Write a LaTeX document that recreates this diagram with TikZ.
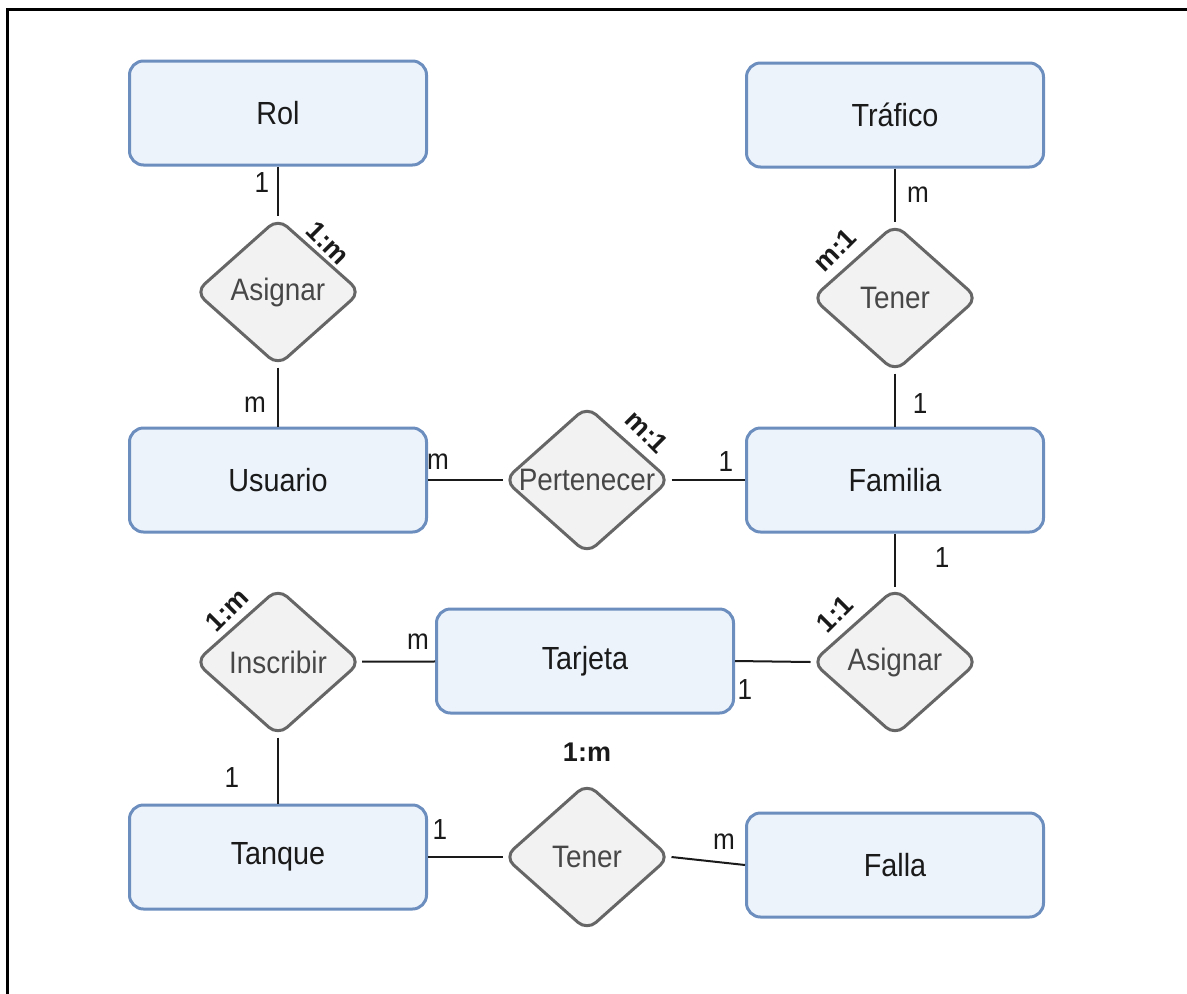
\documentclass[tikz,border=0pt]{standalone}
\usepackage{fontspec}
\setmainfont{Liberation Sans}
\newfontfamily\narrowsans[FakeStretch=0.9]{Liberation Sans}
\usetikzlibrary{shapes.geometric}
\definecolor{entfill}{HTML}{EDF3FB}
\definecolor{entline}{HTML}{6C8EBF}
\definecolor{relfill}{HTML}{F2F2F2}
\definecolor{relline}{HTML}{666666}
\definecolor{reltext}{HTML}{474747}
\definecolor{ink}{HTML}{1A1A1A}
\tikzset{
  entity/.style={rectangle, rounded corners=14pt, draw=entline, fill=entfill,
    line width=3pt, minimum width=297pt, minimum height=104pt, inner sep=0pt,
    text=ink, font=\narrowsans\fontsize{32}{36}\selectfont},
  relation/.style={diamond, rounded corners=12pt, draw=relline, fill=relfill,
    line width=3pt, minimum width=166pt, minimum height=148pt, inner sep=0pt},
  reltxt/.style={text=reltext, font=\narrowsans\fontsize{31}{36}\selectfont, inner sep=0pt},
  link/.style={draw=ink, line width=2pt},
  card/.style={text=ink, font=\narrowsans\fontsize{29}{34}\selectfont, inner sep=0pt},
  ratio/.style={text=ink, font=\bfseries\fontsize{27}{32}\selectfont, inner sep=0pt}
}
\begin{document}
\begin{tikzpicture}[x=1pt, y=-1pt]
\useasboundingbox (0,0) rectangle (1187,994);
% outer frame
\draw[line width=3pt, black] (7,994) -- (7,9) -- (1187,9);

% entities
\node[entity] (rol)     at (278,113) {Rol};
\node[entity] (trafico) at (895,115) {Tráfico};
\node[entity] (usuario) at (278,480) {Usuario};
\node[entity] (familia) at (895,480) {Familia};
\node[entity] (tarjeta) at (585,661) {Tarjeta};
\node[entity] (tanque)  at (278,857) {Tanque};
\node[entity] (falla)   at (895,865) {Falla};

% relationships
\node[relation, label={[reltxt]center:Asignar}]    (asignarA)  at (278,292) {};
\node[relation, label={[reltxt]center:Tener}]      (tenerA)    at (895,298) {};
\node[relation, label={[reltxt]center:Pertenecer}] (pertenecer) at (587,480) {};
\node[relation, label={[reltxt]center:Asignar}]    (asignarB)  at (895,662) {};
\node[relation, label={[reltxt]center:Inscribir}]  (inscribir) at (278,662) {};
\node[relation, label={[reltxt]center:Tener}]      (tenerB)    at (587,857) {};

% connectors
\draw[link] (rol) -- (asignarA);
\draw[link] (asignarA) -- (usuario);
\draw[link] (trafico) -- (tenerA);
\draw[link] (tenerA) -- (familia);
\draw[link] (usuario) -- (pertenecer);
\draw[link] (pertenecer) -- (familia);
\draw[link] (familia) -- (asignarB);
\draw[link] (tarjeta.east) -- (asignarB.west);
\draw[link] (inscribir) -- (tarjeta);
\draw[link] (inscribir) -- (tanque);
\draw[link] (tanque) -- (tenerB);
\draw[link] (tenerB.east) -- (falla.west);

% cardinalities
\node[card] (c1) at (262,183) {1};
\node[card] (c2) at (255,405) {m};
\node[card] (c3) at (918,195) {m};
\node[card] (c4) at (920,404) {1};
\node[card] (c5) at (438,462) {m};
\node[card] (c6) at (726,462) {1};
\node[card] (c7) at (942,558) {1};
\node[card] (c8) at (745,690) {1};
\node[card] (c9) at (418,642) {m};
\node[card] (c10) at (232,778) {1};
\node[card] (c11) at (440,830) {1};
\node[card] (c12) at (724,842) {m};

% relationship ratios
\node[ratio, rotate=-45] (r1) at (328,243) {1:m};
\node[ratio, rotate=45]  (r2) at (835,250) {m:1};
\node[ratio, rotate=-45] (r3) at (647,432) {m:1};
\node[ratio, rotate=45]  (r4) at (835,614) {1:1};
\node[ratio, rotate=45]  (r5) at (227,610) {1:m};
\node[ratio]             (r6) at (587,752) {1:m};
\end{tikzpicture}
\end{document}
